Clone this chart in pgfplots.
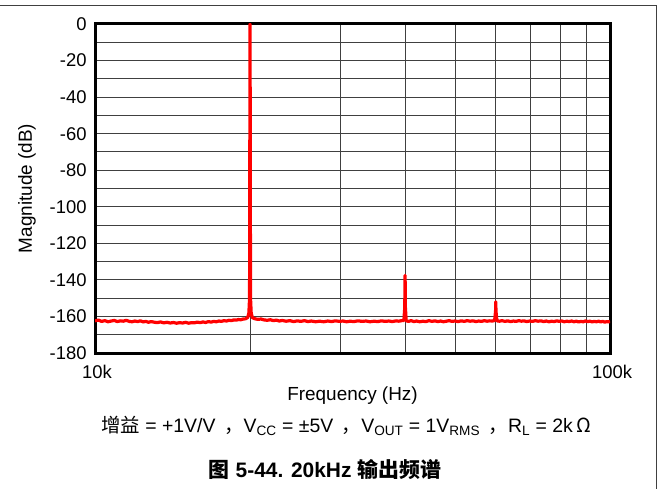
\documentclass[border=0pt]{standalone}
\usepackage{fontspec}
\setmainfont{Liberation Sans}
\newfontfamily\cjk{Noto Sans CJK SC}
\usepackage{pgfplots}
\pgfplotsset{compat=1.18}

\pgfplotstableread{
x y
10000 -162.4
10150 -162.0
10300 -162.7
10450 -162.3
10600 -162.9
10750 -162.5
10900 -162.2
11050 -162.8
11200 -162.4
11350 -162.6
11500 -162.1
11650 -162.7
11800 -162.9
11950 -162.5
12100 -162.8
12250 -162.4
12400 -163.0
12550 -162.7
12700 -163.2
12850 -162.8
13000 -163.1
13200 -163.4
13400 -163.0
13600 -163.5
13800 -163.2
14000 -163.6
14200 -163.3
14400 -163.7
14600 -163.4
14800 -163.6
15000 -163.2
15200 -163.7
15400 -163.4
15600 -163.5
15800 -163.1
16000 -163.4
16200 -163.0
16400 -163.3
16600 -162.8
16800 -163.1
17000 -162.7
17200 -162.9
17400 -162.5
17600 -162.7
17800 -162.3
18000 -162.5
18200 -162.1
18400 -162.3
18600 -161.9
18800 -162.0
19000 -161.7
19200 -161.8
19400 -161.4
19600 -161.3
19800 -160.5
19900 -158
19960 -150
19985 -60
20000 0
20015 -60
20040 -150
20100 -158
20200 -160.6
20400 -161.2
20700 -161.6
21000 -161.4
21300 -161.9
21600 -162.1
21900 -161.8
22200 -162.3
22500 -162.0
22800 -162.5
23100 -162.2
23500 -162.6
23900 -162.3
24300 -162.8
24700 -162.4
25100 -162.7
25500 -162.3
25900 -162.8
26300 -162.5
26800 -162.9
27300 -162.6
27800 -162.9
28300 -162.5
28800 -162.8
29300 -162.4
29800 -162.7
30300 -162.5
30800 -162.9
31300 -162.6
31800 -162.8
32400 -162.4
33000 -162.7
33600 -162.5
34200 -162.9
34800 -162.6
35400 -162.8
36000 -162.4
36600 -162.7
37200 -162.5
37800 -162.8
38400 -162.4
38900 -162.6
39400 -162.3
39800 -162.2
39950 -155
40000 -137.5
40050 -155
40200 -162.4
40600 -162.7
41100 -162.3
41600 -162.8
42100 -162.5
42700 -162.9
43300 -162.6
43900 -162.8
44500 -162.3
45100 -162.7
45700 -162.4
46300 -162.8
46900 -162.5
47500 -162.9
48100 -162.6
48700 -162.3
49300 -162.7
50000 -162.5
50700 -162.8
51400 -162.4
52100 -162.7
52800 -162.3
53500 -162.6
54200 -162.4
54900 -162.8
55600 -162.5
56300 -162.7
57000 -162.3
57700 -162.6
58400 -162.4
59100 -162.5
59700 -162.2
59950 -157
60000 -152
60050 -157
60300 -162.4
61000 -162.6
61700 -162.3
62500 -162.7
63300 -162.4
64100 -162.8
64900 -162.5
65700 -162.7
66500 -162.3
67300 -162.6
68100 -162.4
68900 -162.8
69800 -162.5
70700 -162.7
71600 -162.3
72500 -162.6
73400 -162.4
74300 -162.8
75200 -162.5
76100 -162.9
77000 -162.6
77900 -162.8
78800 -162.4
79700 -162.7
80600 -162.5
81500 -162.9
82400 -162.6
83300 -162.8
84200 -162.5
85100 -162.9
86000 -162.6
86900 -163.0
87800 -162.7
88700 -162.9
89600 -162.5
90500 -162.8
91400 -162.6
92300 -163.0
93200 -162.7
94100 -162.9
95000 -162.6
95900 -163.0
96800 -162.7
97700 -163.1
98600 -162.8
99300 -163.0
100000 -162.7
}\spectrum

\begin{document}
\begin{tikzpicture}[x=1bp,y=1bp]
\useasboundingbox (0,0) rectangle (658,-489);
\draw[black!75, line width=1bp] (0,-6) -- (656,-6) -- (656,-489);
\begin{axis}[
  at={(95bp,-353bp)}, anchor=south west,
  scale only axis, width=515bp, height=329bp,
  xmode=log, xmin=1e4, xmax=1e5, ymin=-180, ymax=0,
  xtick={1e4,1e5}, xticklabels={10k,100k},
  minor xtick={2e4,3e4,4e4,5e4,6e4,7e4,8e4,9e4},
  ytick={-180,-160,...,0},
  yticklabels={-180,-160,-140,-120,-100,-80,-60,-40,-20,0},
  minor ytick={-170,-150,-130,-110,-90,-70,-50,-30,-10},
  grid=both,
  major grid style={black!75, line width=0.9bp},
  minor grid style={black!75, line width=0.9bp},
  major tick length=0pt, minor tick length=0pt,
  axis line style={line width=3bp},
  tick label style={font=\fontsize{18.5}{20}\selectfont},
  xticklabel style={yshift=-9bp, xshift=2bp},
  yticklabel style={xshift=-5bp},
  label style={font=\fontsize{19}{21}\selectfont},
  xlabel={Frequency (Hz)}, ylabel={Magnitude (dB)},
  xlabel style={at={(axis description cs:0.5,-0.1429)}, anchor=base},
  ylabel style={at={(axis description cs:-0.132,0.5)}, anchor=center},
]
\addplot[red, line width=3.2bp, line join=round] table[x=x,y=y] {\spectrum};
\end{axis}
\node[anchor=base, font=\fontsize{19.5}{21}\selectfont] at (346,-432)
  {{\cjk 增益} = +1V/V \,{\cjk ，}V\textsubscript{CC} = ±5V \,{\cjk ，}V\textsubscript{OUT} = 1V\textsubscript{RMS} \,{\cjk ，}R\textsubscript{L} = 2k\,{\cjk Ω}};
\node[anchor=base, font=\bfseries\fontsize{21}{24}\selectfont] at (325,-477)
  {{\cjk 图} 5-44. 20kHz {\cjk 输出频谱}};
\end{tikzpicture}
\end{document}
